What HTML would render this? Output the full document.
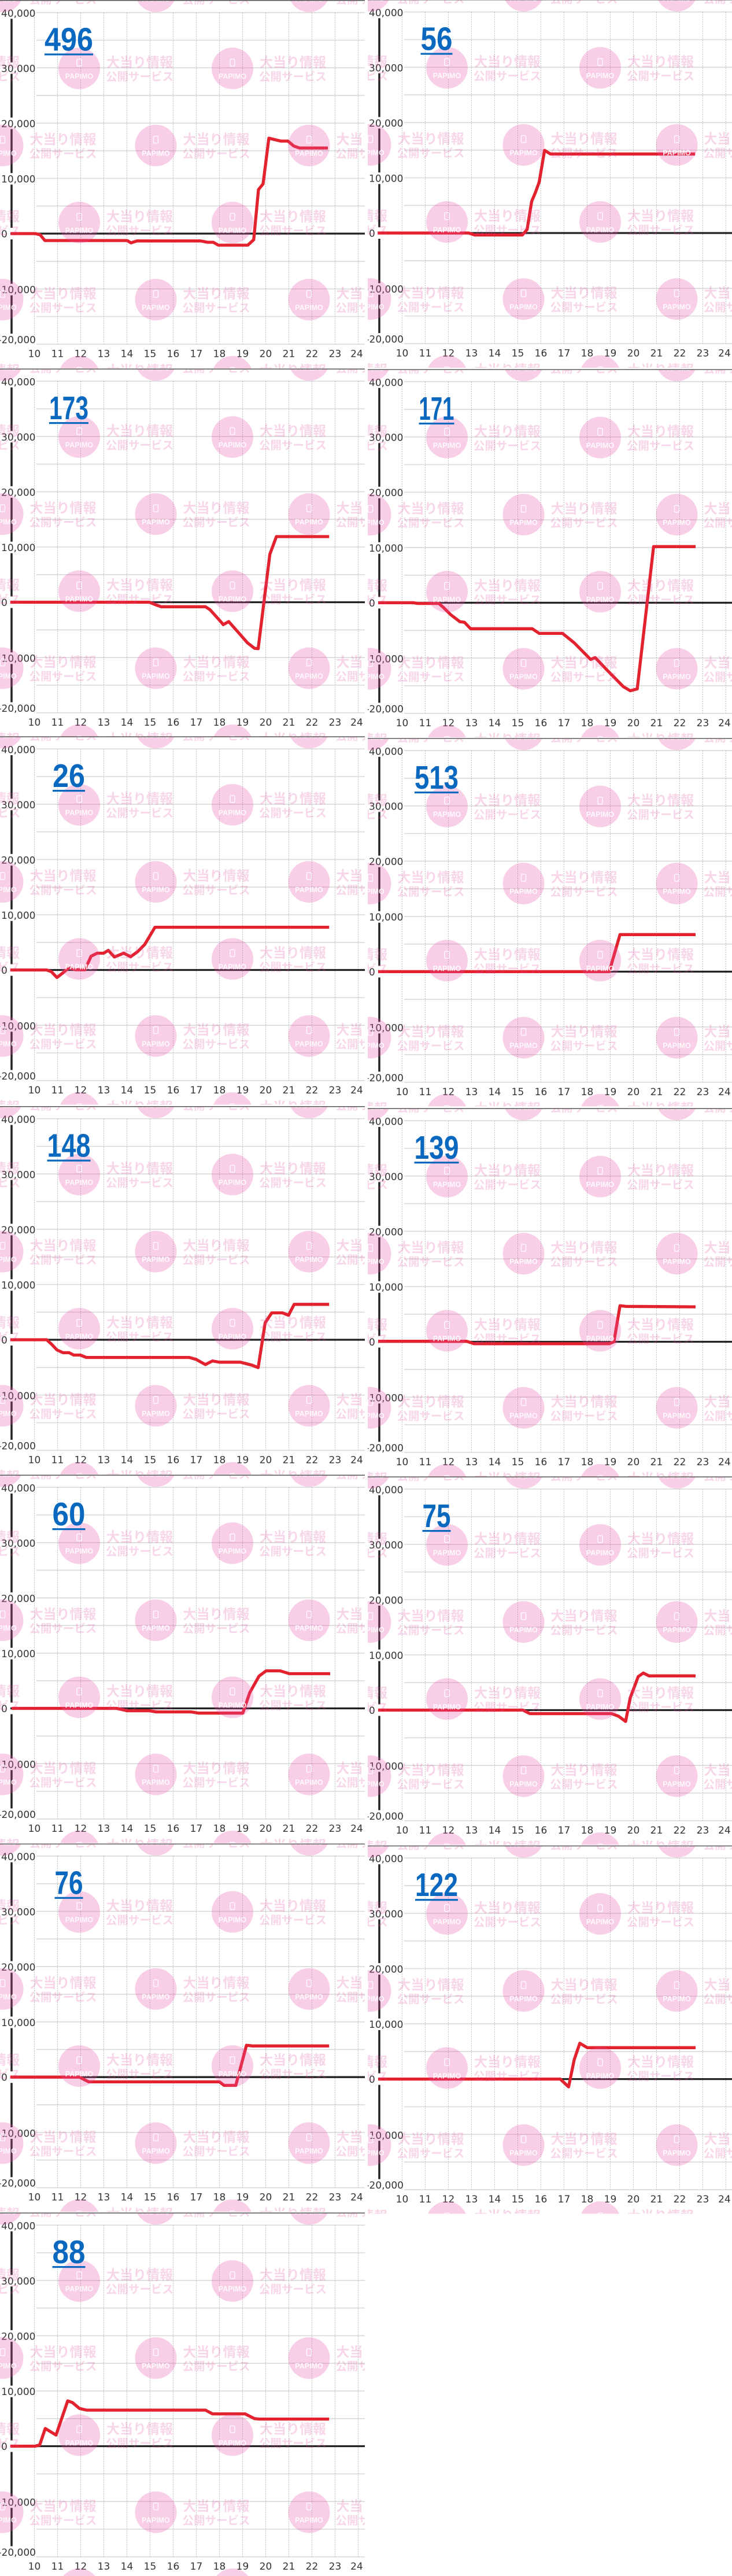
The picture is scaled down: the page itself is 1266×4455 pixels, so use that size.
<!DOCTYPE html>
<html><head><meta charset="utf-8"><style>
html,body{margin:0;padding:0;background:#fff;}
body{width:1266px;height:4455px;overflow:hidden;}
svg{display:block;}
.yl{font-family:"DejaVu Sans","Liberation Sans",sans-serif;font-size:17px;fill:#333;}
.xl{font-family:"DejaVu Sans","Liberation Sans",sans-serif;font-size:17px;fill:#333;text-anchor:middle;}
.ln{fill:none;stroke:#e3222f;stroke-width:5.3;stroke-linejoin:round;stroke-linecap:butt;}
.tt{font-family:"Liberation Sans",sans-serif;font-weight:bold;font-size:57px;fill:#0b68bf;}
.w1{font-family:"Liberation Sans","Noto Sans CJK JP",sans-serif;font-weight:bold;font-size:23px;fill:#e0449a;fill-opacity:.22;}
.w2{font-family:"Liberation Sans","Noto Sans CJK JP",sans-serif;font-weight:bold;font-size:19.5px;fill:#e0449a;fill-opacity:.22;}
.pm{font-family:"Liberation Sans",sans-serif;font-weight:bold;font-size:12.5px;fill:#fff;fill-opacity:.9;text-anchor:middle;}
</style></head><body>
<svg xmlns="http://www.w3.org/2000/svg" width="1266" height="4455" viewBox="0 0 1266 4455">
<defs>
<clipPath id="pc"><rect x="0" y="0" width="631" height="637"/></clipPath>
<pattern id="wm" patternUnits="userSpaceOnUse" x="0" y="0" width="265" height="266.6" patternTransform="translate(97,78.3)">
<circle cx="40" cy="40" r="36" fill="#ea4aa6" fill-opacity=".27"/>
<rect x="36" y="24" width="8" height="12" rx="1.5" fill="none" stroke="#fff" stroke-width="1.5" stroke-opacity=".85"/>
<text class="pm" x="40" y="58">PAPIMO</text>
<text class="w1" x="87" y="37.4">大当り情報</text>
<text class="w2" x="86" y="61">公開サービス</text>
<circle cx="172.5" cy="173.3" r="36" fill="#ea4aa6" fill-opacity=".27"/>
<rect x="168.5" y="157.3" width="8" height="12" rx="1.5" fill="none" stroke="#fff" stroke-width="1.5" stroke-opacity=".85"/>
<text class="pm" x="172.5" y="191.3">PAPIMO</text>
<text class="w1" x="219.5" y="170.7">大当り情報</text>
<text class="w2" x="218.5" y="194.3">公開サービス</text>
<circle cx="-92.5" cy="173.3" r="36" fill="#ea4aa6" fill-opacity=".27"/>
<text class="w1" x="-45.5" y="170.7">大当り情報</text>
<text class="w2" x="-46.5" y="194.3">公開サービス</text>
</pattern>
<g id="grid">
<path fill="none" stroke="#d9d9d9" stroke-width="1.6" d="M63 21.7H631M63 69.5H631M63 117.3H631M63 165.1H631M63 212.9H631M63 260.7H631M63 308.5H631M63 356.3H631M63 404.1H631M63 451.9H631M63 499.7H631M63 547.5H631M63 595.3H631"/>
<path fill="none" stroke="#bbb" stroke-width="1" stroke-dasharray="2 2" d="M59.5 21.7V595.3M99.5 21.7V595.3M139.5 21.7V595.3M179.5 21.7V595.3M219.5 21.7V595.3M259.5 21.7V595.3M299.5 21.7V595.3M339.5 21.7V595.3M379.5 21.7V595.3M419.5 21.7V595.3M459.5 21.7V595.3M499.5 21.7V595.3M539.5 21.7V595.3M579.5 21.7V595.3M619.5 21.7V595.3"/>
<path fill="none" stroke="#222" stroke-width="3.5" d="M20 32.5V107.8M20 127.8V203.4M20 223.4V299.3M20 319.3V394M20 414V490.8M20 510.8V577"/>
<path fill="none" stroke="#222" stroke-width="3.3" d="M18 404H631"/>
</g>
</defs>

<!-- Panel 496 -->
<g transform="translate(0,0)"><g clip-path="url(#pc)">
<use href="#grid"/>
<g class="yl"><text x="2" y="29">40,000</text><text x="2" y="124.3">30,000</text><text x="2" y="219.8">20,000</text><text x="2" y="315.6">10,000</text><text x="2" y="410.5">0</text><text x="62" y="507.2" text-anchor="end">-10,000</text><text x="62" y="593.4" text-anchor="end">-20,000</text></g>
<g class="xl"><text x="59.5" y="617.5">10</text><text x="99.5" y="617.5">11</text><text x="139.5" y="617.5">12</text><text x="179.5" y="617.5">13</text><text x="219.5" y="617.5">14</text><text x="259.5" y="617.5">15</text><text x="299.5" y="617.5">16</text><text x="339.5" y="617.5">17</text><text x="379.5" y="617.5">18</text><text x="419.5" y="617.5">19</text><text x="459.5" y="617.5">20</text><text x="499.5" y="617.5">21</text><text x="539.5" y="617.5">22</text><text x="579.5" y="617.5">23</text><text x="617" y="617.5">24</text></g>
<polyline class="ln" points="18.4,404 61,404 69.4,406 77.6,416 220,416 226.5,420 236.7,416.7 347,416.7 359,419 369,419 377.6,424 428.6,424 438.8,414.6 447,328 455,318 465,239 485.7,244 498,244 508,252.5 518,256 567,256"/>
<rect width="631" height="637" fill="url(#wm)"/>
<text class="tt" x="77" y="87.5" textLength="84" lengthAdjust="spacingAndGlyphs">496</text>
<rect x="77" y="92.5" width="84" height="3.2" fill="#0b68bf"/>
<path d="M0 0.75H631" stroke="#555" stroke-width="1.5"/>
</g></g>

<!-- Panel 56 -->
<g transform="translate(636,-1)"><g clip-path="url(#pc)">
<use href="#grid"/>
<g class="yl"><text x="2" y="29">40,000</text><text x="2" y="124.3">30,000</text><text x="2" y="219.8">20,000</text><text x="2" y="315.6">10,000</text><text x="2" y="410.5">0</text><text x="62" y="507.2" text-anchor="end">-10,000</text><text x="62" y="593.4" text-anchor="end">-20,000</text></g>
<g class="xl"><text x="59.5" y="617.5">10</text><text x="99.5" y="617.5">11</text><text x="139.5" y="617.5">12</text><text x="179.5" y="617.5">13</text><text x="219.5" y="617.5">14</text><text x="259.5" y="617.5">15</text><text x="299.5" y="617.5">16</text><text x="339.5" y="617.5">17</text><text x="379.5" y="617.5">18</text><text x="419.5" y="617.5">19</text><text x="459.5" y="617.5">20</text><text x="499.5" y="617.5">21</text><text x="539.5" y="617.5">22</text><text x="579.5" y="617.5">23</text><text x="617" y="617.5">24</text></g>
<polyline class="ln" points="17.2,404 174.6,404 184.7,407.3 267.5,407.3 275.6,398 283.6,349 289.7,334.7 296.5,316 305.8,261 316,267.3 566.2,267.3"/>
<rect width="631" height="637" fill="url(#wm)"/>
<text class="tt" x="91.5" y="87.5" textLength="55" lengthAdjust="spacingAndGlyphs">56</text>
<rect x="91.5" y="92.5" width="55" height="3.2" fill="#0b68bf"/>
<path d="M0 0.75H631" stroke="#555" stroke-width="1.5"/>
</g></g>

<!-- Panel 173 -->
<g transform="translate(0,637.5)"><g clip-path="url(#pc)">
<use href="#grid"/>
<g class="yl"><text x="2" y="29">40,000</text><text x="2" y="124.3">30,000</text><text x="2" y="219.8">20,000</text><text x="2" y="315.6">10,000</text><text x="2" y="410.5">0</text><text x="62" y="507.2" text-anchor="end">-10,000</text><text x="62" y="593.4" text-anchor="end">-20,000</text></g>
<g class="xl"><text x="59.5" y="617.5">10</text><text x="99.5" y="617.5">11</text><text x="139.5" y="617.5">12</text><text x="179.5" y="617.5">13</text><text x="219.5" y="617.5">14</text><text x="259.5" y="617.5">15</text><text x="299.5" y="617.5">16</text><text x="339.5" y="617.5">17</text><text x="379.5" y="617.5">18</text><text x="419.5" y="617.5">19</text><text x="459.5" y="617.5">20</text><text x="499.5" y="617.5">21</text><text x="539.5" y="617.5">22</text><text x="579.5" y="617.5">23</text><text x="617" y="617.5">24</text></g>
<polyline class="ln" points="17.8,404 258.4,404 270.5,408.9 278.6,411.8 355.3,411.8 363.3,417 383.5,439.5 386,442.8 395.6,437.5 411.8,455.8 428,474.2 440,483.6 446.5,484.4 466.7,321.1 478,290.5 569.2,290.5"/>
<rect width="631" height="637" fill="url(#wm)"/>
<text class="tt" x="85" y="87.5" textLength="68" lengthAdjust="spacingAndGlyphs">173</text>
<rect x="85" y="92.5" width="68" height="3.2" fill="#0b68bf"/>
<path d="M0 0.75H631" stroke="#555" stroke-width="1.5"/>
</g></g>

<!-- Panel 171 -->
<g transform="translate(636,638.4)"><g clip-path="url(#pc)">
<use href="#grid"/>
<g class="yl"><text x="2" y="29">40,000</text><text x="2" y="124.3">30,000</text><text x="2" y="219.8">20,000</text><text x="2" y="315.6">10,000</text><text x="2" y="410.5">0</text><text x="62" y="507.2" text-anchor="end">-10,000</text><text x="62" y="593.4" text-anchor="end">-20,000</text></g>
<g class="xl"><text x="59.5" y="617.5">10</text><text x="99.5" y="617.5">11</text><text x="139.5" y="617.5">12</text><text x="179.5" y="617.5">13</text><text x="219.5" y="617.5">14</text><text x="259.5" y="617.5">15</text><text x="299.5" y="617.5">16</text><text x="339.5" y="617.5">17</text><text x="379.5" y="617.5">18</text><text x="419.5" y="617.5">19</text><text x="459.5" y="617.5">20</text><text x="499.5" y="617.5">21</text><text x="539.5" y="617.5">22</text><text x="579.5" y="617.5">23</text><text x="617" y="617.5">24</text></g>
<polyline class="ln" points="18,404 78.6,404 86.7,405.2 123,405.2 131,412.2 143.2,424.4 159.3,436.7 167.4,437.9 177.9,448.9 284.5,448.9 296.6,457 337,457 357.2,473.4 385.4,502 393.5,499 413.7,520.3 441.9,549 454,556.2 466.1,553 494.4,306.9 567,306.9"/>
<rect width="631" height="637" fill="url(#wm)"/>
<text class="tt" x="88.5" y="87.5" textLength="61" lengthAdjust="spacingAndGlyphs">171</text>
<rect x="88.5" y="92.5" width="61" height="3.2" fill="#0b68bf"/>
<path d="M0 0.75H631" stroke="#555" stroke-width="1.5"/>
</g></g>

<!-- Panel 26 -->
<g transform="translate(0,1273.5)"><g clip-path="url(#pc)">
<use href="#grid"/>
<g class="yl"><text x="2" y="29">40,000</text><text x="2" y="124.3">30,000</text><text x="2" y="219.8">20,000</text><text x="2" y="315.6">10,000</text><text x="2" y="410.5">0</text><text x="62" y="507.2" text-anchor="end">-10,000</text><text x="62" y="593.4" text-anchor="end">-20,000</text></g>
<g class="xl"><text x="59.5" y="617.5">10</text><text x="99.5" y="617.5">11</text><text x="139.5" y="617.5">12</text><text x="179.5" y="617.5">13</text><text x="219.5" y="617.5">14</text><text x="259.5" y="617.5">15</text><text x="299.5" y="617.5">16</text><text x="339.5" y="617.5">17</text><text x="379.5" y="617.5">18</text><text x="419.5" y="617.5">19</text><text x="459.5" y="617.5">20</text><text x="499.5" y="617.5">21</text><text x="539.5" y="617.5">22</text><text x="579.5" y="617.5">23</text><text x="617" y="617.5">24</text></g>
<polyline class="ln" points="17.8,404 80.7,404 88.8,406.9 98.5,417 109,408.9 119.5,399.9 130.8,403.6 147,403.6 157.4,380.3 168,375 179.2,375 187.3,370.1 197.8,381.6 214,375 226,381.1 238.2,372.2 250.3,359.9 268,330.1 569.2,330.1"/>
<rect width="631" height="637" fill="url(#wm)"/>
<text class="tt" x="91" y="87.5" textLength="56" lengthAdjust="spacingAndGlyphs">26</text>
<rect x="91" y="92.5" width="56" height="3.2" fill="#0b68bf"/>
<path d="M0 0.75H631" stroke="#555" stroke-width="1.5"/>
</g></g>

<!-- Panel 513 -->
<g transform="translate(636,1276.4)"><g clip-path="url(#pc)">
<use href="#grid"/>
<g class="yl"><text x="2" y="29">40,000</text><text x="2" y="124.3">30,000</text><text x="2" y="219.8">20,000</text><text x="2" y="315.6">10,000</text><text x="2" y="410.5">0</text><text x="62" y="507.2" text-anchor="end">-10,000</text><text x="62" y="593.4" text-anchor="end">-20,000</text></g>
<g class="xl"><text x="59.5" y="617.5">10</text><text x="99.5" y="617.5">11</text><text x="139.5" y="617.5">12</text><text x="179.5" y="617.5">13</text><text x="219.5" y="617.5">14</text><text x="259.5" y="617.5">15</text><text x="299.5" y="617.5">16</text><text x="339.5" y="617.5">17</text><text x="379.5" y="617.5">18</text><text x="419.5" y="617.5">19</text><text x="459.5" y="617.5">20</text><text x="499.5" y="617.5">21</text><text x="539.5" y="617.5">22</text><text x="579.5" y="617.5">23</text><text x="617" y="617.5">24</text></g>
<polyline class="ln" points="18,404 417.7,404 436.3,339.9 567,339.9"/>
<rect width="631" height="637" fill="url(#wm)"/>
<text class="tt" x="81" y="87.5" textLength="76" lengthAdjust="spacingAndGlyphs">513</text>
<rect x="81" y="92.5" width="76" height="3.2" fill="#0b68bf"/>
<path d="M0 0.75H631" stroke="#555" stroke-width="1.5"/>
</g></g>

<!-- Panel 148 -->
<g transform="translate(0,1913)"><g clip-path="url(#pc)">
<use href="#grid"/>
<g class="yl"><text x="2" y="29">40,000</text><text x="2" y="124.3">30,000</text><text x="2" y="219.8">20,000</text><text x="2" y="315.6">10,000</text><text x="2" y="410.5">0</text><text x="62" y="507.2" text-anchor="end">-10,000</text><text x="62" y="593.4" text-anchor="end">-20,000</text></g>
<g class="xl"><text x="59.5" y="617.5">10</text><text x="99.5" y="617.5">11</text><text x="139.5" y="617.5">12</text><text x="179.5" y="617.5">13</text><text x="219.5" y="617.5">14</text><text x="259.5" y="617.5">15</text><text x="299.5" y="617.5">16</text><text x="339.5" y="617.5">17</text><text x="379.5" y="617.5">18</text><text x="419.5" y="617.5">19</text><text x="459.5" y="617.5">20</text><text x="499.5" y="617.5">21</text><text x="539.5" y="617.5">22</text><text x="579.5" y="617.5">23</text><text x="617" y="617.5">24</text></g>
<polyline class="ln" points="17.8,404 80.7,404 88.8,411.3 98.5,421.6 109,426.4 119.5,426.4 127.6,430.5 138.9,430.5 149.4,434.6 327,434.6 339.1,437.9 355.3,446.9 367.4,440.7 379.5,442.8 415.8,442.8 436,448 446.5,452.2 458.6,374.6 470,357.5 488.5,357.5 499,361.6 508.7,342.8 569.2,342.8"/>
<rect width="631" height="637" fill="url(#wm)"/>
<text class="tt" x="81.5" y="87.5" textLength="75" lengthAdjust="spacingAndGlyphs">148</text>
<rect x="81.5" y="92.5" width="75" height="3.2" fill="#0b68bf"/>
<path d="M0 0.75H631" stroke="#555" stroke-width="1.5"/>
</g></g>

<!-- Panel 139 -->
<g transform="translate(636,1916.5)"><g clip-path="url(#pc)">
<use href="#grid"/>
<g class="yl"><text x="2" y="29">40,000</text><text x="2" y="124.3">30,000</text><text x="2" y="219.8">20,000</text><text x="2" y="315.6">10,000</text><text x="2" y="410.5">0</text><text x="62" y="507.2" text-anchor="end">-10,000</text><text x="62" y="593.4" text-anchor="end">-20,000</text></g>
<g class="xl"><text x="59.5" y="617.5">10</text><text x="99.5" y="617.5">11</text><text x="139.5" y="617.5">12</text><text x="179.5" y="617.5">13</text><text x="219.5" y="617.5">14</text><text x="259.5" y="617.5">15</text><text x="299.5" y="617.5">16</text><text x="339.5" y="617.5">17</text><text x="379.5" y="617.5">18</text><text x="419.5" y="617.5">19</text><text x="459.5" y="617.5">20</text><text x="499.5" y="617.5">21</text><text x="539.5" y="617.5">22</text><text x="579.5" y="617.5">23</text><text x="617" y="617.5">24</text></g>
<polyline class="ln" points="18,403.2 171.4,403.2 183.5,407.3 417.7,407.3 425.8,404 436.3,341.6 446,342.8 567,343.6"/>
<rect width="631" height="637" fill="url(#wm)"/>
<text class="tt" x="80.5" y="87.5" textLength="77" lengthAdjust="spacingAndGlyphs">139</text>
<rect x="80.5" y="92.5" width="77" height="3.2" fill="#0b68bf"/>
<path d="M0 0.75H631" stroke="#555" stroke-width="1.5"/>
</g></g>

<!-- Panel 60 -->
<g transform="translate(0,2550.5)"><g clip-path="url(#pc)">
<use href="#grid"/>
<g class="yl"><text x="2" y="29">40,000</text><text x="2" y="124.3">30,000</text><text x="2" y="219.8">20,000</text><text x="2" y="315.6">10,000</text><text x="2" y="410.5">0</text><text x="62" y="507.2" text-anchor="end">-10,000</text><text x="62" y="593.4" text-anchor="end">-20,000</text></g>
<g class="xl"><text x="59.5" y="617.5">10</text><text x="99.5" y="617.5">11</text><text x="139.5" y="617.5">12</text><text x="179.5" y="617.5">13</text><text x="219.5" y="617.5">14</text><text x="259.5" y="617.5">15</text><text x="299.5" y="617.5">16</text><text x="339.5" y="617.5">17</text><text x="379.5" y="617.5">18</text><text x="419.5" y="617.5">19</text><text x="459.5" y="617.5">20</text><text x="499.5" y="617.5">21</text><text x="539.5" y="617.5">22</text><text x="579.5" y="617.5">23</text><text x="617" y="617.5">24</text></g>
<polyline class="ln" points="20.2,404 201.9,404 219.6,408.1 258.4,408.1 270.5,410.1 331,410.1 343.2,412.2 419.9,412.2 432,376.7 448.1,348.1 460.2,339.1 484.5,339.1 500.6,344 571,344"/>
<rect width="631" height="637" fill="url(#wm)"/>
<text class="tt" x="90.5" y="87.5" textLength="57" lengthAdjust="spacingAndGlyphs">60</text>
<rect x="90.5" y="92.5" width="57" height="3.2" fill="#0b68bf"/>
<path d="M0 0.75H631" stroke="#555" stroke-width="1.5"/>
</g></g>

<!-- Panel 75 -->
<g transform="translate(636,2553.5)"><g clip-path="url(#pc)">
<use href="#grid"/>
<g class="yl"><text x="2" y="29">40,000</text><text x="2" y="124.3">30,000</text><text x="2" y="219.8">20,000</text><text x="2" y="315.6">10,000</text><text x="2" y="410.5">0</text><text x="62" y="507.2" text-anchor="end">-10,000</text><text x="62" y="593.4" text-anchor="end">-20,000</text></g>
<g class="xl"><text x="59.5" y="617.5">10</text><text x="99.5" y="617.5">11</text><text x="139.5" y="617.5">12</text><text x="179.5" y="617.5">13</text><text x="219.5" y="617.5">14</text><text x="259.5" y="617.5">15</text><text x="299.5" y="617.5">16</text><text x="339.5" y="617.5">17</text><text x="379.5" y="617.5">18</text><text x="419.5" y="617.5">19</text><text x="459.5" y="617.5">20</text><text x="499.5" y="617.5">21</text><text x="539.5" y="617.5">22</text><text x="579.5" y="617.5">23</text><text x="617" y="617.5">24</text></g>
<polyline class="ln" points="18,404 268.3,404 280.5,410.1 421.8,410.1 433.9,414.6 446,423.6 454,382.8 467.8,346 476.6,339.9 486.3,344.8 567,344.8"/>
<rect width="631" height="637" fill="url(#wm)"/>
<text class="tt" x="94.5" y="87.5" textLength="49" lengthAdjust="spacingAndGlyphs">75</text>
<rect x="94.5" y="92.5" width="49" height="3.2" fill="#0b68bf"/>
<path d="M0 0.75H631" stroke="#555" stroke-width="1.5"/>
</g></g>

<!-- Panel 76 -->
<g transform="translate(0,3188.2)"><g clip-path="url(#pc)">
<use href="#grid"/>
<g class="yl"><text x="2" y="29">40,000</text><text x="2" y="124.3">30,000</text><text x="2" y="219.8">20,000</text><text x="2" y="315.6">10,000</text><text x="2" y="410.5">0</text><text x="62" y="507.2" text-anchor="end">-10,000</text><text x="62" y="593.4" text-anchor="end">-20,000</text></g>
<g class="xl"><text x="59.5" y="617.5">10</text><text x="99.5" y="617.5">11</text><text x="139.5" y="617.5">12</text><text x="179.5" y="617.5">13</text><text x="219.5" y="617.5">14</text><text x="259.5" y="617.5">15</text><text x="299.5" y="617.5">16</text><text x="339.5" y="617.5">17</text><text x="379.5" y="617.5">18</text><text x="419.5" y="617.5">19</text><text x="459.5" y="617.5">20</text><text x="499.5" y="617.5">21</text><text x="539.5" y="617.5">22</text><text x="579.5" y="617.5">23</text><text x="617" y="617.5">24</text></g>
<polyline class="ln" points="17.8,404 137.3,404 153.4,412.2 379.5,412.2 387.6,418.3 407.8,418.3 426.3,348.9 436,350.1 569.2,350.1"/>
<rect width="631" height="637" fill="url(#wm)"/>
<text class="tt" x="94.5" y="87.5" textLength="49" lengthAdjust="spacingAndGlyphs">76</text>
<rect x="94.5" y="92.5" width="49" height="3.2" fill="#0b68bf"/>
<path d="M0 0.75H631" stroke="#555" stroke-width="1.5"/>
</g></g>

<!-- Panel 122 -->
<g transform="translate(636,3191.6)"><g clip-path="url(#pc)">
<use href="#grid"/>
<g class="yl"><text x="2" y="29">40,000</text><text x="2" y="124.3">30,000</text><text x="2" y="219.8">20,000</text><text x="2" y="315.6">10,000</text><text x="2" y="410.5">0</text><text x="62" y="507.2" text-anchor="end">-10,000</text><text x="62" y="593.4" text-anchor="end">-20,000</text></g>
<g class="xl"><text x="59.5" y="617.5">10</text><text x="99.5" y="617.5">11</text><text x="139.5" y="617.5">12</text><text x="179.5" y="617.5">13</text><text x="219.5" y="617.5">14</text><text x="259.5" y="617.5">15</text><text x="299.5" y="617.5">16</text><text x="339.5" y="617.5">17</text><text x="379.5" y="617.5">18</text><text x="419.5" y="617.5">19</text><text x="459.5" y="617.5">20</text><text x="499.5" y="617.5">21</text><text x="539.5" y="617.5">22</text><text x="579.5" y="617.5">23</text><text x="617" y="617.5">24</text></g>
<polyline class="ln" points="18,404 332.9,404 347.4,417.5 357.1,370.5 366.8,342 379.7,349.7 567,349.7"/>
<rect width="631" height="637" fill="url(#wm)"/>
<text class="tt" x="82" y="87.5" textLength="74" lengthAdjust="spacingAndGlyphs">122</text>
<rect x="82" y="92.5" width="74" height="3.2" fill="#0b68bf"/>
<path d="M0 0.75H631" stroke="#555" stroke-width="1.5"/>
</g></g>

<!-- Panel 88 -->
<g transform="translate(0,3826.5)"><g clip-path="url(#pc)">
<use href="#grid"/>
<g class="yl"><text x="2" y="29">40,000</text><text x="2" y="124.3">30,000</text><text x="2" y="219.8">20,000</text><text x="2" y="315.6">10,000</text><text x="2" y="410.5">0</text><text x="62" y="507.2" text-anchor="end">-10,000</text><text x="62" y="593.4" text-anchor="end">-20,000</text></g>
<g class="xl"><text x="59.5" y="617.5">10</text><text x="99.5" y="617.5">11</text><text x="139.5" y="617.5">12</text><text x="179.5" y="617.5">13</text><text x="219.5" y="617.5">14</text><text x="259.5" y="617.5">15</text><text x="299.5" y="617.5">16</text><text x="339.5" y="617.5">17</text><text x="379.5" y="617.5">18</text><text x="419.5" y="617.5">19</text><text x="459.5" y="617.5">20</text><text x="499.5" y="617.5">21</text><text x="539.5" y="617.5">22</text><text x="579.5" y="617.5">23</text><text x="617" y="617.5">24</text></g>
<polyline class="ln" points="17.8,404 60.6,404 68.6,402 78.3,373.4 96.9,384.8 117.1,325.6 125.2,328.5 137.3,338.7 149.4,341.6 355.3,341.6 367.4,348.1 423.9,348.1 440,356.2 448.1,357.1 569.2,357.1"/>
<rect width="631" height="637" fill="url(#wm)"/>
<text class="tt" x="90.5" y="87.5" textLength="57" lengthAdjust="spacingAndGlyphs">88</text>
<rect x="90.5" y="92.5" width="57" height="3.2" fill="#0b68bf"/>
<path d="M0 0.75H631" stroke="#555" stroke-width="1.5"/>
</g></g>
</svg>
</body></html>
